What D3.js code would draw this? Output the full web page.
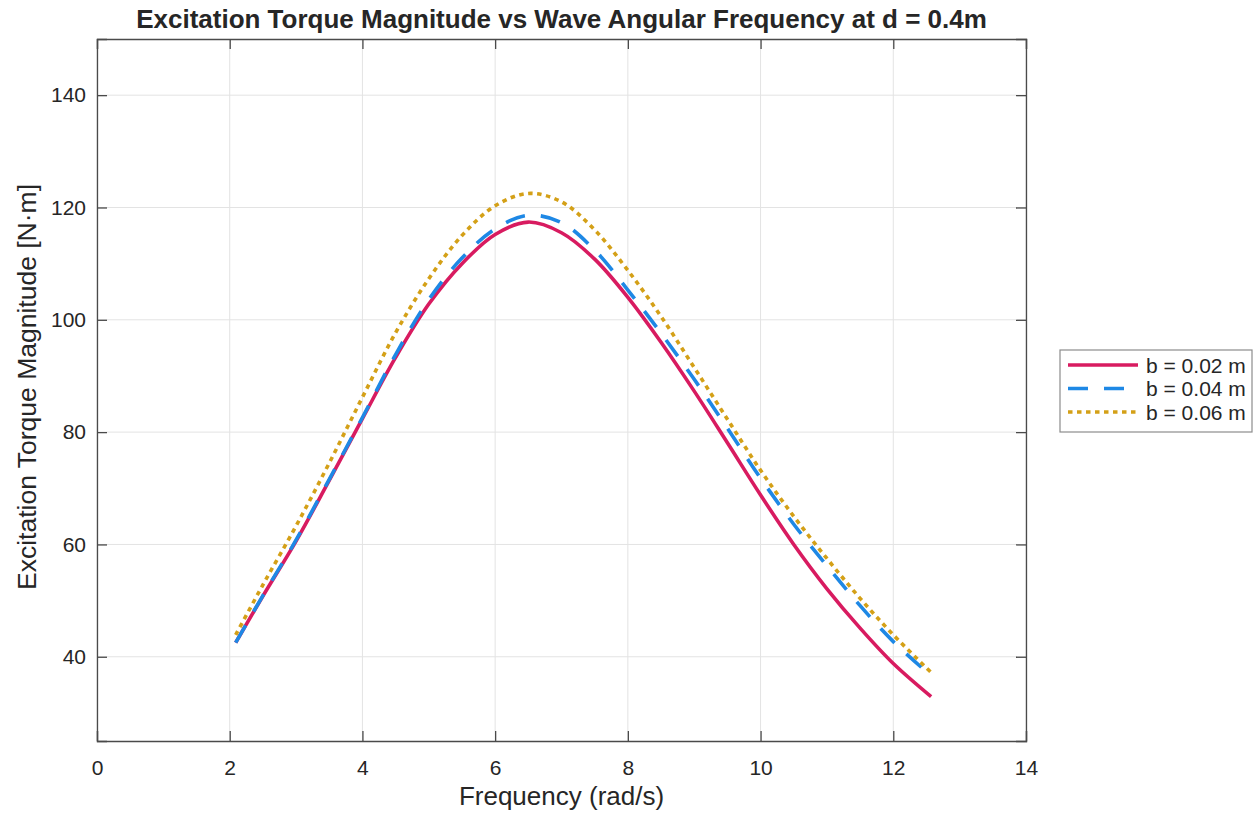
<!DOCTYPE html>
<html>
<head>
<meta charset="utf-8">
<script src="https://cdn.jsdelivr.net/npm/d3@7"></script>
<style>
  html, body { margin: 0; padding: 0; background: #ffffff; }
  svg { display: block; font-family: "Liberation Sans", Arial, Helvetica, sans-serif; }
</style>
</head>
<body>
<svg id="chart" width="1257" height="814"></svg>
<script>
// ---- data ----
const freq = [2.09, 2.5, 3, 3.5, 4, 4.5, 5, 5.5, 6, 6.5, 7, 7.5, 8, 8.5, 9, 9.5, 10, 10.5, 11, 11.5, 12, 12.57];
const torqueB002 = [42.5, 50.8, 60.6, 71.4, 82.4, 93.3, 102.8, 110.0, 115.2, 117.4, 115.5, 110.8, 104.0, 96.0, 87.3, 78.1, 68.8, 60.0, 52.1, 45.1, 38.8, 32.9];
const torqueB004 = [42.5, 50.9, 60.8, 71.6, 82.6, 93.8, 103.6, 111.0, 116.2, 118.6, 117.3, 112.4, 105.3, 97.6, 89.4, 80.7, 71.8, 63.6, 56.2, 49.1, 42.7, 36.6];
const torqueB006 = [43.9, 52.8, 63.3, 74.5, 86.2, 97.7, 107.3, 115.0, 120.3, 122.5, 121.0, 116.0, 108.8, 100.6, 91.5, 82.3, 73.2, 65.0, 57.5, 50.4, 43.9, 37.2];
const seriesNames = ["b = 0.02 m", "b = 0.04 m", "b = 0.06 m"];
const xTicks = [0, 2, 4, 6, 8, 10, 12, 14];
const yTicks = [40, 60, 80, 100, 120, 140];
const titleText = "Excitation Torque Magnitude vs Wave Angular Frequency at d = 0.4m";
const xLabelText = "Frequency (rad/s)";
const yLabelText = "Excitation Torque Magnitude [N·m]";

// ---- styles ----
const colors = ["#d81b60", "#1e88e5", "#d4a017"];
const dashes = [null, "20,16", "4.5,4.5"];

const svg = d3.select("#chart");
const margin = { left: 97, right: 1026, top: 39, bottom: 741 };
const x = d3.scaleLinear().domain([0, 14]).range([margin.left, margin.right]);
const y = d3.scaleLinear().domain([25, 150]).range([margin.bottom, margin.top]);

// grid
const grid = svg.append("g");
grid.selectAll("line.gx").data(xTicks).join("line")
  .attr("x1", d => x(d)).attr("x2", d => x(d))
  .attr("y1", margin.top).attr("y2", margin.bottom)
  .attr("stroke", "#e3e3e3").attr("stroke-width", 1);
grid.selectAll("line.gy").data(yTicks).join("line")
  .attr("y1", d => y(d)).attr("y2", d => y(d))
  .attr("x1", margin.left).attr("x2", margin.right)
  .attr("stroke", "#e3e3e3").attr("stroke-width", 1);

// series
const seriesData = [torqueB002, torqueB004, torqueB006];
const line = d3.line().x(d => x(d[0])).y(d => y(d[1])).curve(d3.curveCatmullRom.alpha(0.5));
seriesData.forEach((vals, i) => {
  const pts = freq.map((f, j) => [f, vals[j]]);
  svg.append("path").datum(pts)
    .attr("d", line)
    .attr("fill", "none")
    .attr("stroke", colors[i])
    .attr("stroke-width", 3.6)
    .attr("stroke-dasharray", dashes[i])
    .attr("stroke-linecap", "butt");
});

// axes
const tickLen = 10;
const axisColor = "#4a4a4a";
const fontColor = "#262626";
const xAxisB = d3.axisBottom(x).tickValues(xTicks).tickSize(-tickLen).tickPadding(19).tickFormat(d3.format("d"));
const xAxisT = d3.axisTop(x).tickValues(xTicks).tickSize(-tickLen).tickFormat("");
const yAxisL = d3.axisLeft(y).tickValues(yTicks).tickSize(-tickLen).tickPadding(11).tickFormat(d3.format("d"));
const yAxisR = d3.axisRight(y).tickValues(yTicks).tickSize(-tickLen).tickFormat("");

function styleAxis(g) {
  g.select(".domain").attr("stroke", axisColor).attr("stroke-width", 1.3);
  g.selectAll(".tick line").attr("stroke", axisColor).attr("stroke-width", 1.3);
  g.selectAll(".tick text").attr("fill", fontColor).attr("font-size", 21)
    .attr("font-family", "\"Liberation Sans\", Arial, Helvetica, sans-serif");
}
svg.append("g").attr("transform", `translate(0,${margin.bottom})`).call(xAxisB).call(styleAxis);
svg.append("g").attr("transform", `translate(0,${margin.top})`).call(xAxisT).call(styleAxis);
svg.append("g").attr("transform", `translate(${margin.left},0)`).call(yAxisL).call(styleAxis);
svg.append("g").attr("transform", `translate(${margin.right},0)`).call(yAxisR).call(styleAxis);

// title & labels
svg.append("text").attr("x", (margin.left + margin.right) / 2).attr("y", 28)
  .attr("text-anchor", "middle").attr("font-weight", "bold").attr("font-size", 26)
  .attr("fill", fontColor).text(titleText);
svg.append("text").attr("x", (margin.left + margin.right) / 2).attr("y", 805)
  .attr("text-anchor", "middle").attr("font-size", 26)
  .attr("fill", fontColor).text(xLabelText);
svg.append("text").attr("transform", `translate(36,${(margin.top + margin.bottom) / 2 - 3}) rotate(-90)`)
  .attr("text-anchor", "middle").attr("font-size", 26.5)
  .attr("fill", fontColor).text(yLabelText);

// legend
const lg = svg.append("g").attr("transform", "translate(1060,350)");
lg.append("rect").attr("x", 0).attr("y", 0).attr("width", 192).attr("height", 82)
  .attr("fill", "#ffffff").attr("stroke", "#8c8c8c").attr("stroke-width", 1.2);
seriesNames.forEach((name, i) => {
  const yy = 15 + i * 23.5;
  lg.append("line").attr("x1", 8).attr("x2", 78).attr("y1", yy).attr("y2", yy)
    .attr("stroke", colors[i]).attr("stroke-width", 3.6)
    .attr("stroke-dasharray", dashes[i]);
  lg.append("text").attr("x", 86).attr("y", yy + 7.5).attr("font-size", 21)
    .attr("fill", fontColor).text(name);
});
</script>
</body>
</html>
